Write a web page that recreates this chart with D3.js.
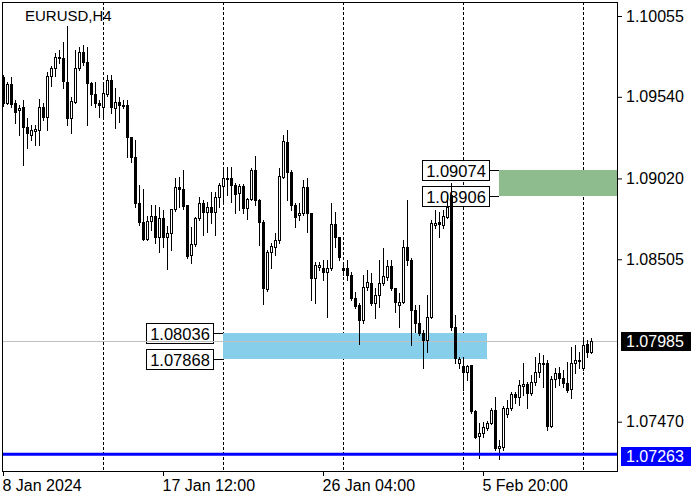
<!DOCTYPE html>
<html><head><meta charset="utf-8">
<script src="https://cdn.jsdelivr.net/npm/d3@7"></script>
<style>
html,body{margin:0;padding:0;background:#fff;}
svg{display:block;font-family:"Liberation Sans",Arial,sans-serif;}
</style></head>
<body><svg id="chart" width="700" height="500"></svg>
<script>
// ---- data (EURUSD H4) ----
const symbolTitle = "EURUSD,H4";
const open = [
1.09666,1.09501,1.09622,1.09501,1.09456,1.09475,1.09348,1.09297,1.09322,1.09329,
1.09475,1.09411,1.09673,1.09724,1.09794,1.09787,1.09635,1.09405,1.09507,1.09724,
1.09826,1.09762,1.09628,1.09558,1.09501,1.09475,1.09558,1.09647,1.09469,1.09507,
1.09488,1.09488,1.09284,1.09157,1.08864,1.08742,1.08634,1.08749,1.08781,1.08647,
1.08768,1.08647,1.08672,1.08825,1.08965,1.08953,1.08851,1.08532,1.08602,1.08768,
1.08864,1.08806,1.08838,1.08806,1.08902,1.08972,1.09016,1.09023,1.08978,1.08927,
1.08972,1.08832,1.08889,1.09074,1.08883,1.08742,1.08316,1.08551,1.08583,1.08628,
1.09029,1.09252,1.09061,1.08851,1.08787,1.08800,1.08965,1.08800,1.08386,1.08456,
1.08449,1.08424,1.08449,1.08730,1.08647,1.08449,1.08449,1.08405,1.08258,1.08214,
1.08118,1.08328,1.08354,1.08226,1.08277,1.08354,1.08392,1.08462,1.08322,1.08214,
1.08233,1.08583,1.08500,1.08182,1.08099,1.08035,1.07991,1.08137,1.08723,1.08742,
1.08723,1.08774,1.08914,1.08073,1.07844,1.07825,1.07787,1.07831,1.07538,1.07379,
1.07398,1.07430,1.07462,1.07545,1.07302,1.07309,1.07519,1.07557,1.07646,1.07627,
1.07697,1.07710,1.07653,1.07723,1.07787,1.07838,1.07844,1.07443,1.07742,1.07780,
1.07748,1.07717,1.07678,1.07844,1.07857,1.07812,1.07965,1.07914];
const high = [
1.09679,1.09635,1.09666,1.09520,1.09488,1.09520,1.09405,1.09360,1.09360,1.09526,
1.09501,1.09698,1.09736,1.09819,1.09838,1.09889,1.09991,1.09539,1.09838,1.09858,
1.09870,1.09858,1.09635,1.09635,1.09520,1.09635,1.09679,1.09679,1.09596,1.09539,
1.09520,1.09520,1.09284,1.09265,1.08978,1.08953,1.08781,1.08851,1.08851,1.08838,
1.08819,1.08717,1.08825,1.09023,1.09029,1.09074,1.08851,1.08711,1.08774,1.08902,
1.08883,1.08870,1.08934,1.08934,1.08991,1.09093,1.09093,1.09093,1.08991,1.08985,
1.08985,1.08895,1.09087,1.09163,1.08889,1.08755,1.08564,1.08609,1.08672,1.09087,
1.09297,1.09329,1.09074,1.08864,1.08864,1.09010,1.09023,1.08800,1.08488,1.08488,
1.08500,1.08500,1.08864,1.08806,1.08647,1.08481,1.08500,1.08424,1.08296,1.08226,
1.08405,1.08437,1.08417,1.08322,1.08500,1.08577,1.08500,1.08500,1.08322,1.08290,
1.08628,1.08883,1.08513,1.08214,1.08214,1.08054,1.08277,1.08755,1.08819,1.08806,
1.08819,1.08914,1.08991,1.08150,1.07882,1.07882,1.07831,1.07831,1.07545,1.07462,
1.07468,1.07474,1.07557,1.07627,1.07353,1.07570,1.07608,1.07659,1.07659,1.07736,
1.07844,1.07723,1.07767,1.07882,1.07908,1.07895,1.07863,1.07761,1.07812,1.07818,
1.07799,1.07850,1.07946,1.07959,1.07914,1.08003,1.07991,1.08003];
const low = [
1.09482,1.09494,1.09475,1.09373,1.09297,1.09106,1.09214,1.09265,1.09233,1.09233,
1.09392,1.09329,1.09609,1.09673,1.09756,1.09596,1.09360,1.09310,1.09501,1.09711,
1.09743,1.09360,1.09488,1.09475,1.09411,1.09405,1.09545,1.09437,1.09341,1.09380,
1.09469,1.09157,1.09125,1.08838,1.08723,1.08628,1.08628,1.08691,1.08609,1.08551,
1.08583,1.08443,1.08564,1.08813,1.08838,1.08825,1.08513,1.08481,1.08590,1.08755,
1.08660,1.08679,1.08736,1.08660,1.08838,1.08870,1.08914,1.08870,1.08800,1.08819,
1.08800,1.08762,1.08883,1.08851,1.08596,1.08220,1.08303,1.08449,1.08532,1.08609,
1.09023,1.08883,1.08819,1.08711,1.08755,1.08787,1.08679,1.08245,1.08226,1.08437,
1.08373,1.08137,1.08437,1.08583,1.08500,1.08405,1.08373,1.08245,1.08194,1.07965,
1.08099,1.08309,1.08214,1.08131,1.08201,1.08341,1.08373,1.08309,1.08169,1.08073,
1.08226,1.08468,1.07959,1.08042,1.08022,1.07812,1.07914,1.08131,1.08704,1.08647,
1.08704,1.08768,1.08054,1.07844,1.07812,1.07672,1.07736,1.07525,1.07366,1.07239,
1.07372,1.07417,1.07455,1.07290,1.07232,1.07290,1.07500,1.07545,1.07589,1.07576,
1.07640,1.07557,1.07640,1.07704,1.07755,1.07691,1.07417,1.07436,1.07691,1.07704,
1.07691,1.07659,1.07621,1.07780,1.07812,1.07799,1.07882,1.07908];
const close = [
1.09501,1.09622,1.09494,1.09443,1.09469,1.09348,1.09310,1.09329,1.09335,1.09475,
1.09411,1.09673,1.09724,1.09794,1.09787,1.09641,1.09405,1.09513,1.09724,1.09826,
1.09762,1.09628,1.09558,1.09501,1.09488,1.09564,1.09647,1.09475,1.09507,1.09488,
1.09482,1.09284,1.09157,1.08864,1.08742,1.08634,1.08749,1.08781,1.08647,1.08768,
1.08647,1.08672,1.08825,1.08965,1.08953,1.08844,1.08526,1.08602,1.08768,1.08864,
1.08806,1.08838,1.08806,1.08902,1.08978,1.09023,1.09023,1.08978,1.08921,1.08972,
1.08832,1.08889,1.09074,1.08883,1.08742,1.08322,1.08551,1.08590,1.08628,1.09036,
1.09258,1.09061,1.08851,1.08774,1.08800,1.08965,1.08800,1.08386,1.08468,1.08468,
1.08424,1.08449,1.08730,1.08647,1.08519,1.08437,1.08405,1.08258,1.08207,1.08118,
1.08328,1.08360,1.08226,1.08277,1.08354,1.08398,1.08462,1.08322,1.08233,1.08233,
1.08583,1.08500,1.08182,1.08099,1.08035,1.07991,1.08137,1.08736,1.08736,1.08730,
1.08781,1.08838,1.08073,1.07876,1.07869,1.07787,1.07825,1.07538,1.07372,1.07398,
1.07436,1.07462,1.07545,1.07302,1.07315,1.07557,1.07557,1.07646,1.07627,1.07704,
1.07710,1.07653,1.07723,1.07787,1.07844,1.07844,1.07443,1.07742,1.07780,1.07748,
1.07717,1.07672,1.07844,1.07863,1.07863,1.07959,1.07914,1.07985];

const priceTicks = [1.10055, 1.09540, 1.09020, 1.08505, 1.07470];
const timeTickIdx = [0, 40, 80, 120];
const timeTickLabels = ["8 Jan 2024", "17 Jan 12:00", "26 Jan 04:00", "5 Feb 20:00"];
const gridIdx = [25, 55, 85, 115, 145];

const currentPrice = 1.07985;
const supportLine = 1.07263;
const greenZone = [1.09074, 1.08906];   // upper zone levels
const greenZoneStart = 124;
const blueZone = [1.08036, 1.07868];    // lower zone levels
const blueZoneStart = 55, blueZoneEnd = 121;

// ---- layout ----
const L = 2, R = 617, T = 2, B = 471;
const svg = d3.select("#chart");
const x = d3.scaleLinear().domain([-0.25, 153.5]).range([L, R]);
const y = d3.scaleLinear().domain([1.07470, 1.10055]).range([421.7, 16]);
const N = close.length;
const candles = d3.range(N).map(i => ({i, o: open[i], h: high[i], l: low[i], c: close[i]}));

// grid (vertical dashed)
svg.append("g").selectAll("line").data(gridIdx).join("line")
  .attr("x1", d => Math.round(x(d)) + 0.5).attr("x2", d => Math.round(x(d)) + 0.5)
  .attr("y1", T).attr("y2", B)
  .attr("stroke", "#000").attr("stroke-width", 1).attr("stroke-dasharray", "3,2");

// zones
function zone(levels, i0, xEnd, color) {
  const yT = Math.round(y(levels[0])), yB = Math.round(y(levels[1]));
  const x0 = Math.round(x(i0));
  svg.append("rect").attr("x", x0).attr("y", yT).attr("width", xEnd - x0).attr("height", yB - yT)
    .attr("fill", color);
  levels.forEach(v => {
    const yy = Math.round(y(v));
    const bx1 = x0 - 10, bw = 67, bh = 20;
    svg.append("line").attr("x1", bx1).attr("x2", x0).attr("y1", yy + 0.5).attr("y2", yy + 0.5)
      .attr("stroke", "#000");
    svg.append("rect").attr("x", bx1 - bw + 0.5).attr("y", yy - 10 + 0.5).attr("width", bw).attr("height", bh)
      .attr("fill", "#fff").attr("stroke", "#000");
    svg.append("text").attr("x", bx1 - bw / 2 + 0.5).attr("y", yy + 6.5).attr("text-anchor", "middle")
      .attr("font-size", 16.5).attr("fill", "#000").text(v.toFixed(5));
  });
}
zone(greenZone, greenZoneStart, R, "#8fbc8f");
zone(blueZone, blueZoneStart, Math.round(x(blueZoneEnd)), "#87ceeb");

// current price line
const yCur = Math.round(y(currentPrice));
svg.append("line").attr("x1", L).attr("x2", R).attr("y1", yCur + 0.5).attr("y2", yCur + 0.5)
  .attr("stroke", "#c0c0c0");

// candles
const cg = svg.append("g");
candles.forEach(d => {
  const X = Math.round(x(d.i));
  const yh = Math.round(y(d.h)), yl = Math.round(y(d.l));
  const yo = Math.round(y(d.o)), yc = Math.round(y(d.c));
  cg.append("line").attr("x1", X + 0.5).attr("x2", X + 0.5).attr("y1", yh).attr("y2", yl + 1)
    .attr("stroke", "#000");
  if (d.c > d.o) {
    cg.append("rect").attr("x", X - 0.5).attr("y", yc + 0.5).attr("width", 2)
      .attr("height", Math.max(yo - yc, 0)).attr("fill", "#fff").attr("stroke", "#000");
  } else {
    cg.append("rect").attr("x", X - 1).attr("y", yo).attr("width", 3)
      .attr("height", Math.max(yc - yo, 0) + 1).attr("fill", "#000");
  }
});

// support line
const ySup = y(supportLine);
svg.append("line").attr("x1", L).attr("x2", R).attr("y1", ySup).attr("y2", ySup)
  .attr("stroke", "#0000ff").attr("stroke-width", 3);

// frame
svg.append("rect").attr("x", L + 0.5).attr("y", T + 0.5).attr("width", R - L).attr("height", B - T)
  .attr("fill", "none").attr("stroke", "#000");

// right axis
const ya = svg.append("g").attr("transform", `translate(${R + 1},0)`)
  .call(d3.axisRight(y).tickValues(priceTicks).tickSize(4).tickPadding(4).tickFormat(d => d.toFixed(5)));
ya.select(".domain").remove();
ya.selectAll("text").attr("font-size", 16).attr("font-family", "Liberation Sans, Arial, sans-serif").attr("fill", "#000");

// bottom axis
const xa = svg.append("g").attr("transform", `translate(0,${B + 1})`)
  .call(d3.axisBottom(x).tickValues(timeTickIdx).tickSize(4).tickPadding(4)
    .tickFormat((d, i) => timeTickLabels[i]));
xa.select(".domain").remove();
xa.selectAll("text").attr("text-anchor", "start").attr("x", -1).attr("font-size", 16)
  .attr("font-family", "Liberation Sans, Arial, sans-serif").attr("fill", "#000");

// price labels on axis
function priceBox(v, bg, dy) {
  const yy = y(v);
  svg.append("rect").attr("x", 621).attr("y", Math.round(yy) - 9 + dy).attr("width", 70).attr("height", 19).attr("fill", bg);
  svg.append("text").attr("x", 626).attr("y", Math.round(yy) + 6 + dy).attr("font-size", 16)
    .attr("fill", "#fff").text(v.toFixed(5));
}
priceBox(currentPrice, "#000", 0);
priceBox(supportLine, "#0000ff", 2);

// title
svg.append("text").attr("x", 25).attr("y", 21).attr("font-size", 15).attr("fill", "#000").text(symbolTitle);
</script></body></html>
